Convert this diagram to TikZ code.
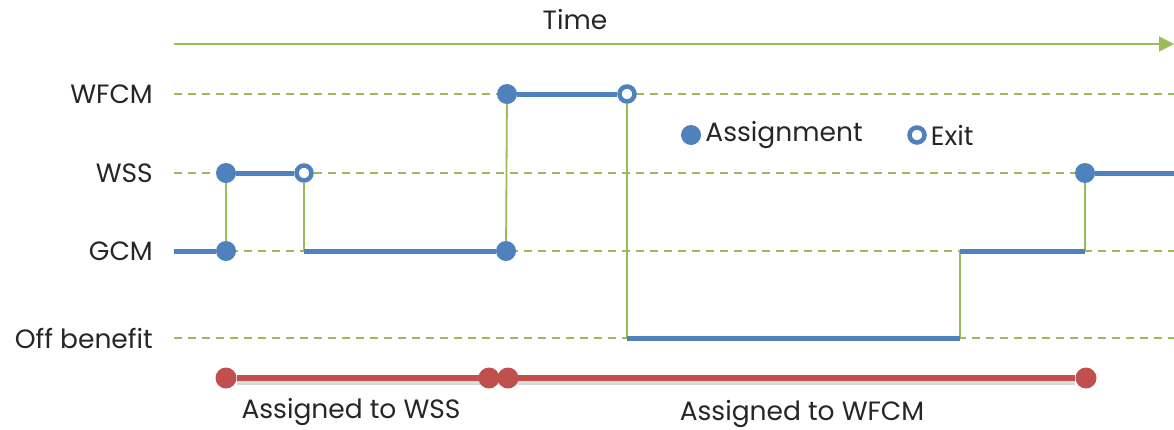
\documentclass[tikz,border=0pt]{standalone}
\usepackage{fontspec}
\setmainfont{Poppins}
\usepackage{tikz}
\usetikzlibrary{arrows.meta,positioning,backgrounds}
\definecolor{stblue}{HTML}{4F81BD}
\definecolor{stgreen}{HTML}{9BBB59}
\definecolor{stred}{HTML}{C0504D}
\definecolor{txtgray}{HTML}{262626}

\begin{document}
\begin{tikzpicture}[x=1pt,y=-1pt]
\tikzstyle{lbl}=[text=txtgray,font=\fontsize{26.5}{30}\selectfont,inner sep=0pt]
\tikzstyle{grid}=[stgreen,line width=2pt,dash pattern=on 8pt off 6pt]
\tikzstyle{move}=[stgreen,line width=1.8pt]
\tikzstyle{stay}=[stblue,line width=5pt]
\tikzstyle{assign}=[circle,fill=stblue,minimum size=20pt,inner sep=0pt]
\tikzstyle{exit}=[circle,draw=stblue,fill=white,line width=4.5pt,minimum size=15pt,inner sep=0pt]
\tikzstyle{span}=[stred,line width=6pt]
\tikzstyle{ends}=[circle,fill=stred,minimum size=21pt,inner sep=0pt]
\useasboundingbox (0,0) rectangle (1174,429);

% time axis
\node[lbl] (time) at (575,20) {Time};
\coordinate (t0) at (174,44);
\coordinate (t1) at (1174,44);

% levels
\foreach \y/\name/\txt in {94/wfcm/WFCM,173/wss/WSS,251/gcm/GCM,338/off/Off benefit}{
  \node[lbl,anchor=east] (\name) at (153,\y) {\txt};
  \coordinate (\name L) at (174,\y);
  \coordinate (\name R) at (1174,\y);
}

% path of one person
\coordinate (s0) at (174,251);
\node[assign] (a1) at (226,251) {};
\node[assign] (a2) at (226,173) {};
\node[exit] (e1) at (304,173) {};
\coordinate (c1) at (304,251);
\node[assign] (a3) at (506,251) {};
\node[assign] (a4) at (507,94) {};
\node[exit] (e2) at (627,94) {};
\coordinate (c2) at (627,338);
\coordinate (c3) at (960,338);
\coordinate (c4) at (960,251);
\coordinate (c5) at (1085,251);
\node[assign] (a5) at (1085,173) {};
\coordinate (s1) at (1174,173);

% assignment spans
\node[ends] (r1) at (226,378) {};
\node[ends] (r2) at (489,378) {};
\node[ends] (r3) at (508,378) {};
\node[ends] (r4) at (1086,378) {};
\node[lbl] (wsslbl) at (351,412) {Assigned to WSS};
\node[lbl] (wfcmlbl) at (802,414) {Assigned to WFCM};

% legend
\node[assign] (la) at (691,135) {};
\node[lbl,right=4pt of la] (latxt) {Assignment};
\node[exit] (le) at (917,135) {};
\node[lbl,right=4pt of le] (letxt) {Exit};

\begin{scope}[on background layer]
\draw[move,-{Triangle[length=15pt,width=15pt]}] (t0) -- (t1);
\foreach \name in {wfcm,wss,gcm,off}
  \draw[grid] (\name L) -- (\name R);
\draw[move] (a1) -- (a2);
\draw[move] (e1) -- (c1);
\draw[move] (a3) -- (a4);
\draw[move] (e2) -- (c2);
\draw[move] (c3) -- (c4);
\draw[move] (c5) -- (a5);
\draw[stay] (s0) -- (a1);
\draw[stay] (a2) -- (e1);
\draw[stay] (c1) -- (a3);
\draw[stay] (a4) -- (e2);
\draw[stay] (c2) -- (c3);
\draw[stay] (c4) -- (c5);
\draw[stay] (a5) -- (s1);
\draw[black!25,line width=5pt,opacity=.6,transform canvas={yshift=-4pt}] (r1) -- (r4);
\draw[span] (r1) -- (r4);
\end{scope}
\end{tikzpicture}
\end{document}
